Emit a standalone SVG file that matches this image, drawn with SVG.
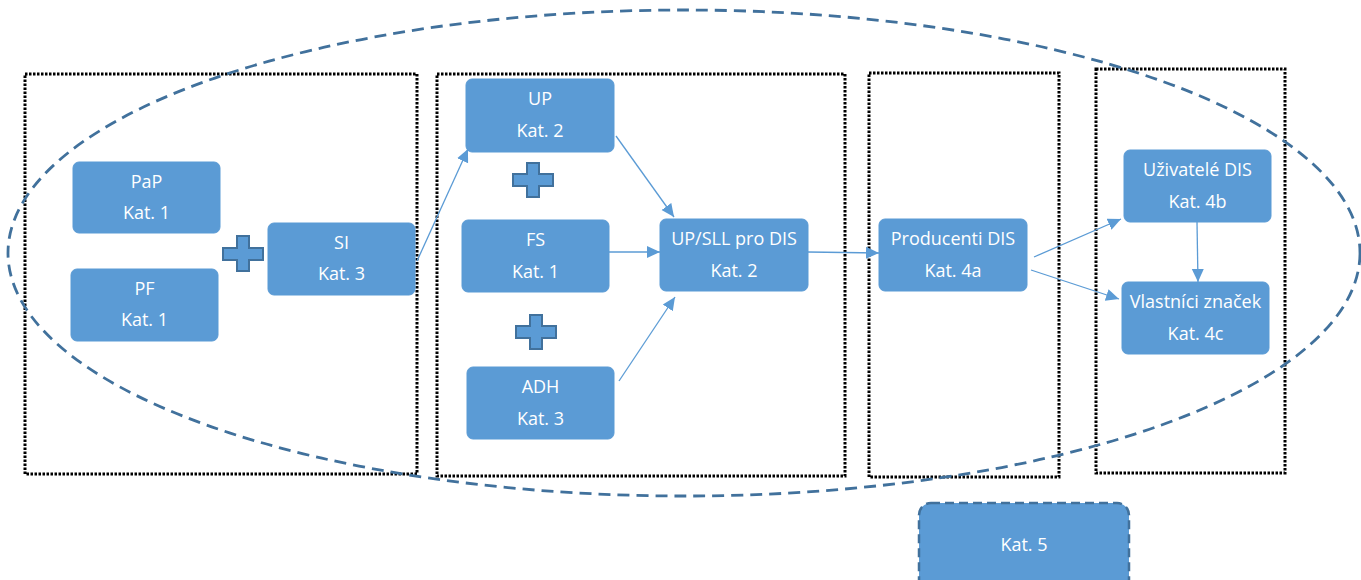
<svg xmlns="http://www.w3.org/2000/svg" width="1361" height="580" viewBox="0 0 1361 580">
<style>
.grp{fill:none;stroke:#000;stroke-width:3;stroke-dasharray:2.5 1.5}
.node{fill:#5B9BD5;stroke:#5B9BD5;stroke-width:1}
.t{fill:#fff;font-family:"Open Sans","Liberation Sans",sans-serif;font-size:18px;text-anchor:middle}
.plus{fill:#5B9BD5;stroke:#41719C;stroke-width:2}
.c{fill:none;stroke:#5B9BD5;stroke-width:1.3;marker-end:url(#ah)}
</style>
<defs>
<marker id="ah" markerUnits="userSpaceOnUse" markerWidth="14" markerHeight="14" viewBox="0 0 14 14" refX="13" refY="7" orient="auto">
<path d="M0,1 L13,7 L0,13 Z" fill="#5B9BD5"/>
</marker>
</defs>
<rect fill="#fff" x="0" y="0" width="1361" height="580"/>
<g id="groups">
<rect class="grp" x="25" y="74" width="392" height="400"/>
<rect class="grp" x="437" y="74" width="408" height="402"/>
<rect class="grp" x="869" y="73" width="190" height="404"/>
<rect class="grp" x="1096" y="69" width="189" height="404"/>
</g>
<ellipse id="scope" cx="684" cy="253" rx="676" ry="243" fill="none" stroke="#41719C" stroke-width="2.8" stroke-dasharray="12 7"/>
<g id="connectors">
<line class="c" x1="417" y1="261" x2="468" y2="149"/>
<line class="c" x1="616" y1="136" x2="674" y2="217"/>
<line class="c" x1="609" y1="252" x2="660" y2="252"/>
<line class="c" x1="619" y1="381" x2="675" y2="297"/>
<line class="c" x1="808" y1="252" x2="879" y2="253"/>
<line class="c" x1="1034" y1="257" x2="1121" y2="219"/>
<line class="c" x1="1031" y1="270" x2="1119" y2="299"/>
<line class="c" x1="1197" y1="222" x2="1198" y2="282"/>
</g>
<g id="plus1"><path class="plus" d="M237,236 h12 v12 h14 v12 h-14 v11 h-12 v-11 h-14 v-12 h14 z"/></g>
<g id="plus2"><path class="plus" d="M527,163 h12 v11 h14 v12 h-14 v11 h-12 v-11 h-14 v-12 h14 z"/></g>
<g id="plus3"><path class="plus" d="M530,315 h12 v11 h14 v12 h-14 v11 h-12 v-11 h-14 v-12 h14 z"/></g>
<g id="PaP"><rect class="node" x="73" y="162" width="147" height="71" rx="6"/><text class="t" x="146.5" y="188">PaP</text><text class="t" x="146.5" y="219">Kat. 1</text></g>
<g id="PF"><rect class="node" x="71" y="269" width="147" height="72" rx="6"/><text class="t" x="144.5" y="295">PF</text><text class="t" x="144.5" y="326">Kat. 1</text></g>
<g id="SI"><rect class="node" x="268" y="223" width="147" height="72" rx="6"/><text class="t" x="341.5" y="249">SI</text><text class="t" x="341.5" y="280">Kat. 3</text></g>
<g id="UP"><rect class="node" x="466" y="79" width="148" height="73" rx="6"/><text class="t" x="540" y="105">UP</text><text class="t" x="540" y="137">Kat. 2</text></g>
<g id="FS"><rect class="node" x="462" y="220" width="147" height="72" rx="6"/><text class="t" x="535.5" y="246">FS</text><text class="t" x="535.5" y="278">Kat. 1</text></g>
<g id="ADH"><rect class="node" x="467" y="367" width="147" height="72" rx="6"/><text class="t" x="540.5" y="393">ADH</text><text class="t" x="540.5" y="425">Kat. 3</text></g>
<g id="UPSLL"><rect class="node" x="660" y="219" width="148" height="72" rx="6"/><text class="t" x="734" y="245">UP/SLL pro DIS</text><text class="t" x="734" y="277">Kat. 2</text></g>
<g id="Producenti"><rect class="node" x="879" y="219" width="148" height="72" rx="6"/><text class="t" x="953" y="245">Producenti DIS</text><text class="t" x="953" y="277">Kat. 4a</text></g>
<g id="Uzivatele"><rect class="node" x="1124" y="150" width="147" height="72" rx="6"/><text class="t" x="1197.5" y="176">Uživatelé DIS</text><text class="t" x="1197.5" y="208">Kat. 4b</text></g>
<g id="Vlastnici"><rect class="node" x="1122" y="282" width="147" height="72" rx="6"/><text class="t" x="1195.5" y="308">Vlastníci značek</text><text class="t" x="1195.5" y="340">Kat. 4c</text></g>
<g id="Kat5"><rect x="919" y="503" width="210" height="90" rx="12" fill="#5B9BD5" stroke="#41719C" stroke-width="2.5" stroke-dasharray="9 5"/><text class="t" x="1024" y="551">Kat. 5</text></g>
</svg>
